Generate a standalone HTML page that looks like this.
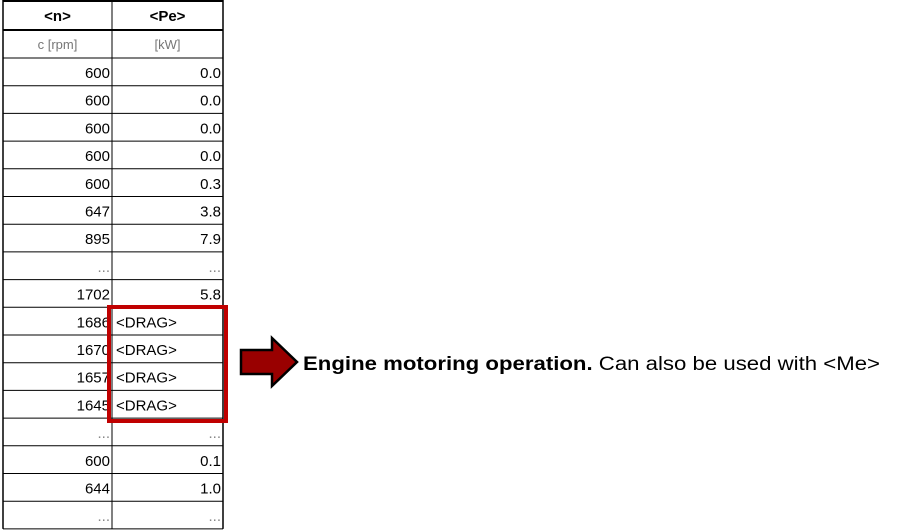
<!DOCTYPE html>
<html><head><meta charset="utf-8"><style>
html,body{margin:0;padding:0;background:#fff;width:902px;height:532px;overflow:hidden}
svg{display:block;font-family:"Liberation Sans",sans-serif}
</style></head><body>
<svg width="902" height="532" viewBox="0 0 902 532">
<g id="tbl"></g>
<rect x="109" y="307" width="117" height="114" fill="none" stroke="#c00000" stroke-width="4"/>
<polygon points="241,350 272,350 272,338 297,362 272,386 272,374 241,374" fill="#990000" stroke="#000" stroke-width="2.5" stroke-linejoin="miter"/>
<text x="303" y="370" font-size="19" fill="#000" textLength="577" lengthAdjust="spacingAndGlyphs"><tspan font-weight="bold">Engine motoring operation.</tspan> Can also be used with &lt;Me&gt;</text>
</svg>
<script>
const nVals=["600","600","600","600","600","647","895","...","1702","1686","1670","1657","1645","...","600","644","..."];
const peVals=["0.0","0.0","0.0","0.0","0.3","3.8","7.9","...","5.8","<DRAG>","<DRAG>","<DRAG>","<DRAG>","...","0.1","1.0","..."];
const NS="http://www.w3.org/2000/svg";
const g=document.getElementById('tbl');
function mk(t,a){const e=document.createElementNS(NS,t);for(const k in a)e.setAttribute(k,a[k]);g.appendChild(e);return e;}
const L=3,M=112,R=223,top0=1,hB=30,uB=58,rh=27.7;
const bottom=uB+rh*nVals.length;
let e=mk('text',{x:(L+M)/2,y:21,'font-size':15,'font-weight':'bold','text-anchor':'middle'});e.textContent='<n>';


e=mk('text',{x:(M+R)/2,y:21,'font-size':15,'font-weight':'bold','text-anchor':'middle'});e.textContent='<Pe>';


e=mk('text',{x:(L+M)/2,y:49,'font-size':13,fill:'#777','text-anchor':'middle'});e.textContent='c [rpm]';


e=mk('text',{x:(M+R)/2,y:49,'font-size':13,fill:'#777','text-anchor':'middle'});e.textContent='[kW]';


for(let i=0;i<nVals.length;i++){
  const y0=uB+rh*i;
  mk('line',{x1:L,x2:R,y1:y0+rh,y2:y0+rh,stroke:'#000','stroke-width':1});
  e=mk('text',{x:M-2,y:y0+20,'font-size':15,'text-anchor':'end',fill:nVals[i]==='...'?'#888':'#000'});e.textContent=nVals[i];
  
  
  const drag=peVals[i]==='<DRAG>';
  e=mk('text',{x:drag?M+4:R-2,y:y0+20,'font-size':15,'text-anchor':drag?'start':'end',fill:peVals[i]==='...'?'#888':'#000'});e.textContent=peVals[i];
  
  
}
mk('line',{x1:L,x2:R,y1:top0,y2:top0,stroke:'#000','stroke-width':2});
mk('line',{x1:L,x2:R,y1:hB,y2:hB,stroke:'#000','stroke-width':2});
mk('line',{x1:L,x2:R,y1:uB,y2:uB,stroke:'#000','stroke-width':1});
for(const x of [L,M,R]) mk('line',{x1:x,x2:x,y1:0,y2:bottom,stroke:'#000','stroke-width':x===M?1:1.5});
</script>
</body></html>
